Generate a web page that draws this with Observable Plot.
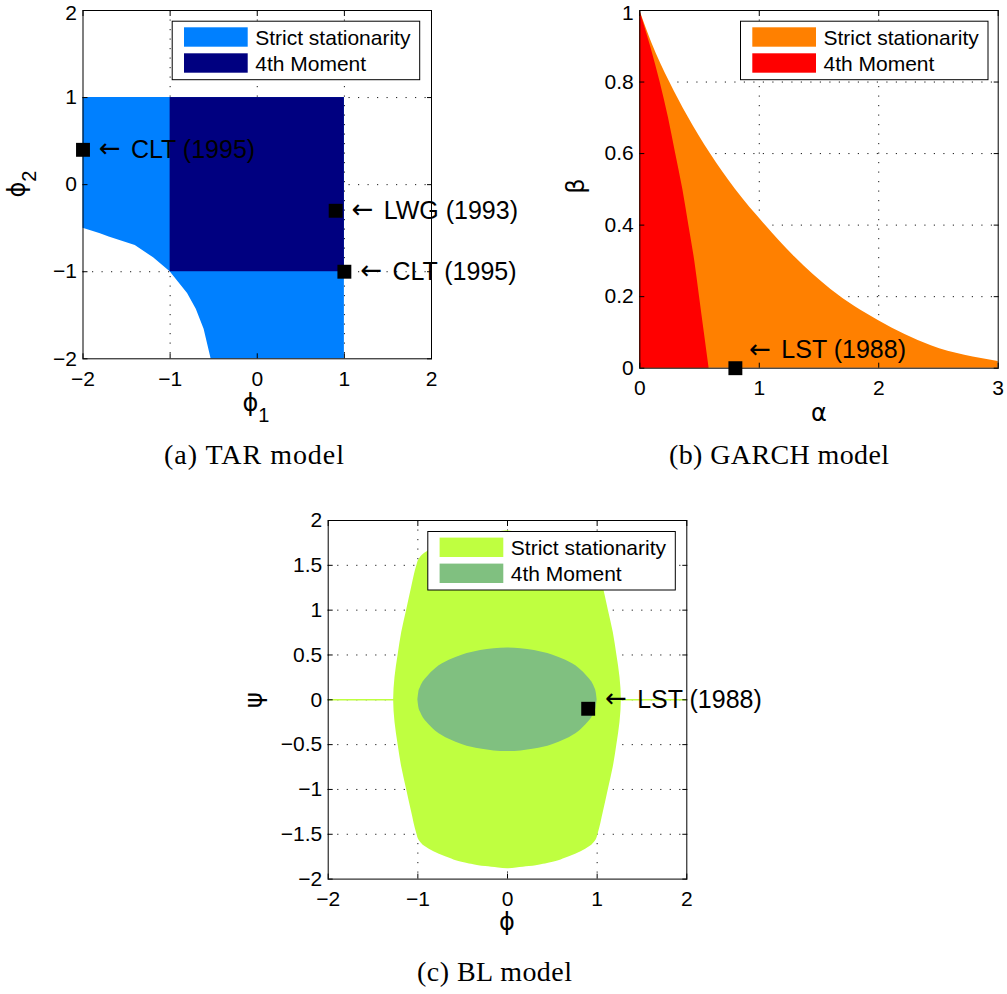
<!DOCTYPE html>
<html>
<head>
<meta charset="utf-8">
<script src="https://cdn.jsdelivr.net/npm/d3@7"></script>
<script src="https://cdn.jsdelivr.net/npm/@observablehq/plot@0.6"></script>
<style>
  body { margin: 0; background: #fff; }
  #root { position: relative; width: 1007px; height: 994px; overflow: hidden; background: #fff; }
  #root svg { position: absolute; }
</style>
</head>
<body>
<div id="root"></div>
<script>
// ---------------- data ----------------
const legendLabels = ["Strict stationarity", "4th Moment"];

// (a) TAR model
const tarTicks = [-2, -1, 0, 1, 2];
const tarStrictPhi1 = [-2, -1.8, -1.7, -1.4, -1.19, -1, -0.8, -0.7, -0.61, -0.53, 1];
const tarStrictLower = [-0.5, -0.565, -0.6, -0.7, -0.84, -1, -1.25, -1.43, -1.66, -2, -2];
const tarStrictUpper = [1, 1, 1, 1, 1, 1, 1, 1, 1, 1, 1];
const tarMomentPhi1 = [-1, 1];
const tarMomentPhi2 = [-1, 1];
const tarRefPhi1 = [-2, 0.9, 1];
const tarRefPhi2 = [0.4, -0.3, -1];
const tarRefLabels = ["CLT (1995)", "LWG (1993)", "CLT (1995)"];

// (b) GARCH model
const garchXTicks = [0, 1, 2, 3];
const garchYTicks = [0, 0.2, 0.4, 0.6, 0.8, 1];
const garchStrictAlpha = [0, 0.1, 0.25, 0.4, 0.59, 0.8, 1.05, 1.3, 1.6, 2.0, 2.44, 3.0];
const garchStrictBeta  = [1, 0.91, 0.80, 0.705, 0.60, 0.50, 0.40, 0.31, 0.22, 0.133, 0.063, 0.019];
const garchMomentBeta  = [1, 0.9, 0.8, 0.7, 0.6, 0.5, 0.4, 0.3, 0.2, 0.1, 0];
const garchMomentAlpha = [0, 0.09, 0.17, 0.24, 0.30, 0.36, 0.41, 0.46, 0.50, 0.54, 0.58];
const garchRefAlpha = [0.8];
const garchRefBeta = [0];
const garchLabelAlpha = [0.8];
const garchLabelBeta = [0.05];
const garchRefLabels = ["LST (1988)"];

// (c) BL model
const blXTicks = [-2, -1, 0, 1, 2];
const blYTicks = [-2, -1.5, -1, -0.5, 0, 0.5, 1, 1.5, 2];
const blStrictPsi = [-1.885, -1.875, -1.86, -1.82, -1.75, -1.64, -1.56, -1.5, -1.25, -1, -0.75, -0.5, -0.25, 0,
                      0.25, 0.5, 0.75, 1, 1.25, 1.5, 1.56, 1.64, 1.75, 1.82, 1.86, 1.875, 1.885];
const blStrictHalfWidth = [0, 0.1, 0.245, 0.47, 0.69, 0.915, 0.99, 1.01, 1.07, 1.125, 1.18, 1.22, 1.255, 1.27,
                           1.255, 1.22, 1.18, 1.125, 1.07, 1.01, 0.99, 0.915, 0.69, 0.47, 0.245, 0.1, 0];
const blSpikePsi = 0;
const blMomentPhi = [-1, -0.99, -0.97, -0.94, -0.9, -0.8, -0.65, -0.5, -0.3, -0.15, 0,
                     0.15, 0.3, 0.5, 0.65, 0.8, 0.9, 0.94, 0.97, 0.99, 1];
const blMomentHalfHeight = [0, 0.08, 0.14, 0.2, 0.25, 0.35, 0.44, 0.5, 0.55, 0.57, 0.577,
                            0.57, 0.55, 0.5, 0.44, 0.35, 0.25, 0.2, 0.14, 0.08, 0];
const blRefPhi = [0.9];
const blRefPsi = [-0.1];
const blLabelPhi = [0.9];
const blLabelPsi = [0];
const blRefLabels = ["LST (1988)"];

const captions = ["(a)  TAR model", "(b)  GARCH model", "(c)  BL model"];

// ---------------- helpers ----------------
const FONT = "'Liberation Sans', Arial, Helvetica, sans-serif";
const ARROW_FONT = "'DejaVu Sans', sans-serif";
const fmt = d => (d < 0 ? "\u2212" : "") + Math.abs(d);
const rows = (n, f) => d3.range(n).map(f);
const root = document.getElementById("root");

function frameAxes(xTicks, yTicks, topDy = 0) {
  const yText = {anchor: "left", tickSize: 0, tickPadding: 6, tickFormat: fmt, fontSize: 21, label: null, fill: "black"};
  return [
    Plot.frame({stroke: "black", strokeWidth: 1}),
    Plot.axisX(xTicks, {anchor: "bottom", tickSize: 0, tickPadding: 12, tickFormat: fmt, fontSize: 21, label: null, fill: "black"}),
    Plot.axisY(yTicks.slice(0, -1), yText),
    Plot.axisY(yTicks.slice(-1), {...yText, dy: topDy}),
    Plot.axisX(xTicks, {anchor: "bottom", tickSize: -5, fill: "none", stroke: "black", label: null}),
    Plot.axisX(xTicks, {anchor: "top", tickSize: -5, fill: "none", stroke: "black", label: null}),
    Plot.axisY(yTicks, {anchor: "left", tickSize: -5, fill: "none", stroke: "black", label: null}),
    Plot.axisY(yTicks, {anchor: "right", tickSize: -5, fill: "none", stroke: "black", label: null})
  ];
}
function grids(xTicks, yTicks) {
  const g = {stroke: "black", strokeOpacity: 0.9, strokeWidth: 1, strokeDasharray: "1.2,8.3"};
  return [Plot.gridX(xTicks, g), Plot.gridY(yTicks, g)];
}
function refMarks(xs, ys, lx, ly, labels, dx) {
  const pts = rows(xs.length, i => ({x: xs[i], y: ys[i]}));
  const lbl = rows(labels.length, i => ({x: lx[i], y: ly[i], t: labels[i]}));
  return [
    Plot.dot(pts, {x: "x", y: "y", symbol: "square", r: 7.85, fill: "black", stroke: "none"}),
    Plot.text(lbl, {x: "x", y: "y", text: () => "\u2190", textAnchor: "start", dx, dy: -1, fontSize: 26, fontFamily: ARROW_FONT, fill: "black"}),
    Plot.text(lbl, {x: "x", y: "y", text: "t", textAnchor: "start", dx: dx + 32, fontSize: 25, fill: "black"})
  ];
}
function place(svg, left, top) {
  svg.style.left = left + "px";
  svg.style.top = top + "px";
  root.appendChild(svg);
}
const baseStyle = {fontFamily: FONT, fontSize: "21px", color: "black", background: "transparent", overflow: "visible"};

// ---------------- (a) TAR ----------------
const tarStrict = rows(tarStrictPhi1.length, i => ({x: tarStrictPhi1[i], lo: tarStrictLower[i], hi: tarStrictUpper[i]}));
const tarMoment = [{x1: tarMomentPhi1[0], x2: tarMomentPhi1[1], y1: tarMomentPhi2[0], y2: tarMomentPhi2[1]}];
const plotA = Plot.plot({
  width: 560, height: 440,
  marginLeft: 82.5, marginRight: 129, marginTop: 10, marginBottom: 81.7,
  style: baseStyle,
  x: {domain: [-2, 2]},
  y: {domain: [-2, 2]},
  marks: [
    ...grids(tarTicks.slice(1, -1), tarTicks.slice(1, -1)),
    Plot.areaY(tarStrict, {x: "x", y1: "lo", y2: "hi", fill: "#0080FF", curve: "linear"}),
    Plot.rect(tarMoment, {x1: "x1", x2: "x2", y1: "y1", y2: "y2", fill: "#000080"}),
    ...frameAxes(tarTicks, tarTicks, 2.5),
    ...refMarks(tarRefPhi1, tarRefPhi2, tarRefPhi1, tarRefPhi2, tarRefLabels, 16)
  ]
});
place(plotA, 0, 0);

// ---------------- (b) GARCH ----------------
const garchStrict = rows(garchStrictAlpha.length, i => ({a: garchStrictAlpha[i], b: garchStrictBeta[i]}));
const garchMoment = rows(garchMomentAlpha.length, i => ({a: garchMomentAlpha[i], b: garchMomentBeta[i]}));
const plotB = Plot.plot({
  width: 467, height: 440,
  marginLeft: 99.3, marginRight: 9.3, marginTop: 10, marginBottom: 72.3,
  style: baseStyle,
  x: {domain: [0, 3]},
  y: {domain: [0, 1]},
  marks: [
    ...grids(garchXTicks.slice(1, -1), garchYTicks.slice(1, -1)),
    Plot.areaY(garchStrict, {x: "a", y: "b", fill: "#FF8000", curve: "monotone-x"}),
    Plot.areaX(garchMoment, {y: "b", x: "a", fill: "#FF0000", curve: "monotone-y"}),
    ...frameAxes(garchXTicks, garchYTicks, 2.5),
    ...refMarks(garchRefAlpha, garchRefBeta, garchLabelAlpha, garchLabelBeta, garchRefLabels, 14)
  ]
});
place(plotB, 540, 0);

// ---------------- (c) BL ----------------
const blStrict = rows(blStrictPsi.length, i => ({psi: blStrictPsi[i], w: blStrictHalfWidth[i]}));
const blMoment = rows(blMomentPhi.length, i => ({phi: blMomentPhi[i], h: blMomentHalfHeight[i]}));
const blXDomain = [-2, 2];
const plotC = Plot.plot({
  width: 560, height: 460,
  marginLeft: 97.7, marginRight: 103.7, marginTop: 20, marginBottom: 81.4,
  style: baseStyle,
  x: {domain: blXDomain},
  y: {domain: [-2, 2]},
  marks: [
    ...grids(blXTicks.slice(1, -1), blYTicks.slice(1, -1)),
    Plot.ruleY([blSpikePsi], {x1: blXDomain[0], x2: blXDomain[1], stroke: "#BFFF40", strokeWidth: 1.6}),
    Plot.areaX(blStrict, {y: "psi", x1: d => -d.w, x2: "w", fill: "#BFFF40", curve: "monotone-y"}),
    Plot.areaY(blMoment, {x: "phi", y1: d => -d.h, y2: "h", fill: "#80C080", curve: "monotone-x"}),
    ...frameAxes(blXTicks, blYTicks, 0),
    ...refMarks(blRefPhi, blRefPsi, blLabelPhi, blLabelPsi, blRefLabels, 17)
  ]
});
place(plotC, 230, 500);

// ---------------- overlay: legends, axis titles, captions ----------------
const ov = d3.select(root).append("svg")
  .attr("width", 1007).attr("height", 994)
  .style("left", "0px").style("top", "0px").style("pointer-events", "none")
  .style("font-family", FONT);

function legend(x, y, colors) {
  const g = ov.append("g").attr("transform", `translate(${x},${y})`);
  g.append("rect").attr("x", 0.5).attr("y", 0.5).attr("width", 247.5).attr("height", 58.5)
    .attr("fill", "white").attr("stroke", "black").attr("stroke-width", 1);
  [0, 1].forEach(i => {
    g.append("rect").attr("x", 12.3).attr("y", 6.6 + 26 * i).attr("width", 63.7).attr("height", 19.4).attr("fill", colors[i]);
    g.append("text").attr("x", 83.5).attr("y", 24.3 + 25.8 * i).attr("font-size", 21).attr("fill", "black").text(legendLabels[i]);
  });
}
legend(171.7, 20.7, ["#0080FF", "#000080"]);
legend(740, 20.7, ["#FF8000", "#FF0000"]);
legend(427.3, 531, ["#BFFF40", "#80C080"]);

function title(x, y, main, sub, rotate) {
  const t = ov.append("text")
    .attr("transform", `translate(${x},${y})` + (rotate ? " rotate(-90)" : ""))
    .attr("text-anchor", "middle").attr("font-size", 24).attr("fill", "black")
    .style("font-family", "'DejaVu Sans', " + FONT);
  t.append("tspan").text(main);
  if (sub) t.append("tspan").attr("dy", 11).attr("font-size", 20).style("font-family", FONT).text(sub);
}
title(256, 411, "\u03D5", "1", false);
title(25, 184, "\u03D5", "2", true);
title(819, 421, "\u03B1", null, false);
title(584, 186, "\u03B2", null, true);
title(507, 930, "\u03D5", null, false);
title(262, 700, "\u03C8", null, true);

function caption(x, y, len, txt) {
  ov.append("text").attr("x", x).attr("y", y)
    .attr("font-size", 28).attr("fill", "black")
    .style("font-family", "'Liberation Serif', 'Times New Roman', serif")
    .attr("textLength", len).attr("lengthAdjust", "spacing")
    .text(txt);
}
caption(164, 464, 180, captions[0]);
caption(669, 464, 220, captions[1]);
caption(417, 981, 155, captions[2]);
</script>
</body>
</html>
